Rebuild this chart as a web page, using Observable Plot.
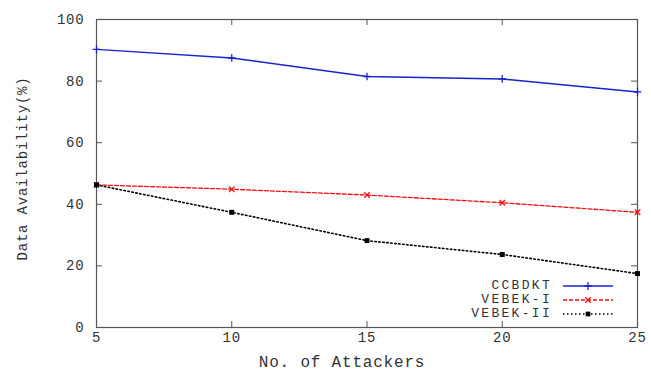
<!DOCTYPE html>
<html><head><meta charset="utf-8">
<script src="https://cdn.jsdelivr.net/npm/d3@7"></script>
<script src="https://cdn.jsdelivr.net/npm/@observablehq/plot@0.6"></script>
<style>
body{margin:0;background:#fff;}
#wrap{position:relative;width:651px;height:371px;}
#wrap svg{display:block;}
#legend{position:absolute;left:0;top:0;}
</style></head>
<body><div id="wrap"></div>
<script>
const attackers = [5, 10, 15, 20, 25];
const ccbdkt = [90.3, 87.5, 81.5, 80.7, 76.5];
const vebek1 = [46.3, 44.9, 43.0, 40.5, 37.4];
const vebek2 = [46.3, 37.4, 28.2, 23.7, 17.5];
const seriesNames = ["CCBDKT", "VEBEK-I", "VEBEK-II"];
const xTicks = [5, 10, 15, 20, 25];
const yTicks = [0, 20, 40, 60, 80, 100];
const xLabel = "No. of Attackers";
const yLabel = "Data Availability(%)";

const styles = {
  "CCBDKT": {color: "#1a22d0", dash: null, symbol: "plus", width: 1.5},
  "VEBEK-I": {color: "#f01010", dash: "4,2", symbol: "times", width: 1.3},
  "VEBEK-II": {color: "#000000", dash: "1.5,2.5", symbol: "square", width: 1.6}
};
const values = [ccbdkt, vebek1, vebek2];
const data = seriesNames.flatMap((s, i) => attackers.map((x, j) => ({series: s, x, y: values[i][j]})));

const W = 651, H = 371, mL = 96, mR = 14, mT = 19, mB = 44;
const innerH = H - mT - mB, innerW = W - mL - mR;
const font = "'Liberation Mono', 'DejaVu Sans Mono', monospace";
const tickLen = 6;

const marks = [
  Plot.frame({stroke: "#555", strokeWidth: 1.2}),
  // inward ticks on all sides
  Plot.tickX(xTicks, {x: d => d, insetTop: innerH - tickLen, stroke: "#555"}),
  Plot.tickX(xTicks, {x: d => d, insetBottom: innerH - tickLen, stroke: "#555"}),
  Plot.tickY(yTicks, {y: d => d, insetRight: innerW - tickLen, stroke: "#555"}),
  Plot.tickY(yTicks, {y: d => d, insetLeft: innerW - tickLen, stroke: "#555"}),
  Plot.axisX({ticks: xTicks, tickSize: 0, tickPadding: 5, label: null, fontSize: 14, fill: "#333"}),
  Plot.axisY({ticks: yTicks, tickSize: 0, tickPadding: 12, label: null, fontSize: 14, fill: "#333"}),
  Plot.text([xLabel], {text: d => d, frameAnchor: "bottom", dy: 34, dx: -25, fontSize: 16, fill: "#333", textAnchor: "middle", lineAnchor: "middle"}),
  Plot.text([yLabel], {text: d => d, frameAnchor: "left", rotate: -90, dx: -74, dy: -5, fontSize: 14, fill: "#333", textAnchor: "middle", lineAnchor: "middle"})
];
for (const s of seriesNames) {
  const st = styles[s];
  const d = data.filter(r => r.series === s);
  marks.push(Plot.line(d, {x: "x", y: "y", stroke: st.color, strokeWidth: st.width, strokeDasharray: st.dash}));
  if (st.symbol === "square") {
    marks.push(Plot.dot(d, {x: "x", y: "y", symbol: "square", r: 2.8, fill: st.color, stroke: null}));
  } else {
    marks.push(Plot.dot(d, {x: "x", y: "y", symbol: st.symbol, r: 2.6, stroke: st.color, strokeWidth: 1.3}));
  }
}

const chart = Plot.plot({
  width: W, height: H,
  marginLeft: mL, marginRight: mR, marginTop: mT, marginBottom: mB,
  style: {fontFamily: font, background: "#fff"},
  x: {domain: [5, 25]},
  y: {domain: [0, 100]},
  marks
});
chart.querySelectorAll("text").forEach(t => t.setAttribute("letter-spacing", "0.8"));
const wrap = document.getElementById("wrap");
wrap.appendChild(chart);

// legend overlay (inside plot, lower right)
const leg = d3.select(wrap).append("svg").attr("id", "legend").attr("width", W).attr("height", H);
const textX = 552, lineX1 = 563, lineX2 = 613, row0 = 286, rowGap = 14;
seriesNames.forEach((s, i) => {
  const st = styles[s];
  const y = row0 + i * rowGap;
  leg.append("text").attr("x", textX).attr("y", y).attr("text-anchor", "end").attr("dominant-baseline", "middle")
    .attr("font-family", font).attr("font-size", 13).attr("fill", "#333").attr("letter-spacing", "2.3").text(s);
  leg.append("line").attr("x1", lineX1).attr("x2", lineX2).attr("y1", y).attr("y2", y)
    .attr("stroke", st.color).attr("stroke-width", st.width).attr("stroke-dasharray", st.dash);
  const sym = d3.symbol().type(st.symbol === "plus" ? d3.symbolPlus : st.symbol === "times" ? d3.symbolTimes : d3.symbolSquare).size(22);
  const p = leg.append("path").attr("d", sym()).attr("transform", `translate(${(lineX1 + lineX2) / 2},${y})`);
  if (st.symbol === "square") p.attr("fill", st.color);
  else p.attr("fill", "none").attr("stroke", st.color).attr("stroke-width", 1.3);
});
</script></body></html>
